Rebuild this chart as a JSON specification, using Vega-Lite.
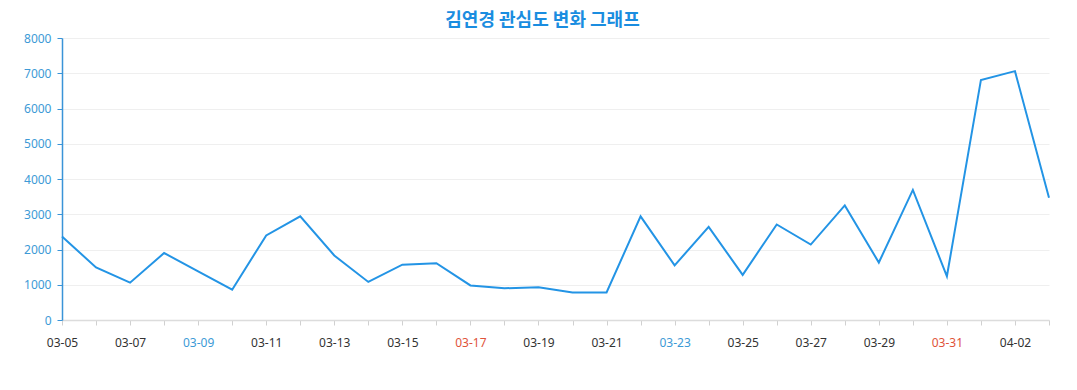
{
  "$schema": "https://vega.github.io/schema/vega-lite/v6.json",
  "width": 987,
  "height": 282,
  "autosize": {"type": "none"},
  "padding": {"left": 62, "top": 38, "right": 28, "bottom": 70},
  "background": "#ffffff",
  "title": {
    "text": "김연경 관심도 변화 그래프",
    "font": "Noto Sans CJK KR",
    "fontSize": 18,
    "fontWeight": "bold",
    "color": "#1a8de0",
    "anchor": "middle",
    "frame": "group",
    "dx": -13,
    "offset": 2
  },
  "config": {"view": {"stroke": null}},
  "data": {
    "values": [
      {"date": "03-05", "value": 2370},
      {"date": "03-06", "value": 1490},
      {"date": "03-07", "value": 1060},
      {"date": "03-08", "value": 1900},
      {"date": "03-09", "value": 1380},
      {"date": "03-10", "value": 860},
      {"date": "03-11", "value": 2400},
      {"date": "03-12", "value": 2940},
      {"date": "03-13", "value": 1830},
      {"date": "03-14", "value": 1080},
      {"date": "03-15", "value": 1570},
      {"date": "03-16", "value": 1610},
      {"date": "03-17", "value": 980},
      {"date": "03-18", "value": 900},
      {"date": "03-19", "value": 930},
      {"date": "03-20", "value": 780},
      {"date": "03-21", "value": 780},
      {"date": "03-22", "value": 2940},
      {"date": "03-23", "value": 1550},
      {"date": "03-24", "value": 2640},
      {"date": "03-25", "value": 1280},
      {"date": "03-26", "value": 2710},
      {"date": "03-27", "value": 2140},
      {"date": "03-28", "value": 3250},
      {"date": "03-29", "value": 1630},
      {"date": "03-30", "value": 3690},
      {"date": "03-31", "value": 1240},
      {"date": "04-01", "value": 6810},
      {"date": "04-02", "value": 7060},
      {"date": "04-03", "value": 3470}
    ]
  },
  "mark": {"type": "line", "color": "#2394e5", "strokeWidth": 2, "strokeJoin": "miter"},
  "encoding": {
    "x": {
      "field": "date",
      "type": "ordinal",
      "sort": null,
      "scale": {"type": "point", "padding": 0},
      "axis": {
        "title": null,
        "labelAngle": 0,
        "labelFont": "Noto Sans",
        "labelFontSize": 12,
        "labelPadding": 12,
        "labelExpr": "indexof(['03-05','03-07','03-09','03-11','03-13','03-15','03-17','03-19','03-21','03-23','03-25','03-27','03-29','03-31','04-02'], datum.value) >= 0 ? datum.label : ''",
        "labelColor": {
          "condition": [
            {"test": "datum.value === '03-09' || datum.value === '03-23'", "value": "#3d9ad6"},
            {"test": "datum.value === '03-17' || datum.value === '03-31'", "value": "#e0533a"}
          ],
          "value": "#333333"
        },
        "domainColor": "#dcdcdc",
        "domainWidth": 1.5,
        "tickColor": "#d0d0d0",
        "tickSize": 5,
        "grid": false,
        "labelOverlap": false
      }
    },
    "y": {
      "field": "value",
      "type": "quantitative",
      "scale": {"domain": [0, 8000], "nice": false},
      "axis": {
        "title": null,
        "values": [0, 1000, 2000, 3000, 4000, 5000, 6000, 7000, 8000],
        "format": "d",
        "labelFont": "Noto Sans",
        "labelFontSize": 12,
        "labelColor": "#3d9ad6",
        "labelPadding": 6,
        "domainColor": "#3a94d8",
        "domainWidth": 1.5,
        "tickColor": "#3a94d8",
        "tickSize": 5,
        "gridColor": "#efefef",
        "gridWidth": 1
      }
    }
  }
}
